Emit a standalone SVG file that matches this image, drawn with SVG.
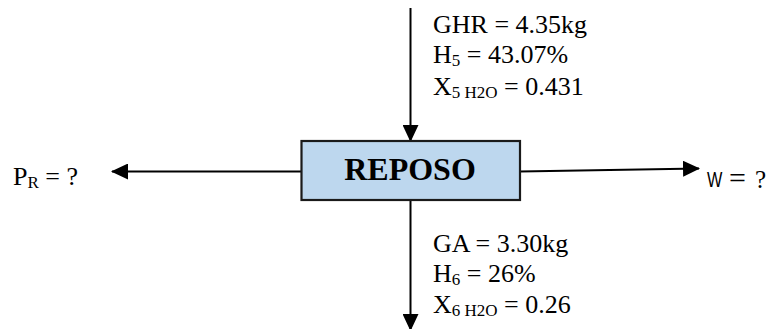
<svg xmlns="http://www.w3.org/2000/svg" width="772" height="329" viewBox="0 0 772 329">
<style>
.t{font-family:"Liberation Serif","Times New Roman",serif;font-size:26px;fill:#000}
.s{font-size:17px}
.c{stroke:#000;stroke-width:2;fill:none}
</style>
<defs>
<marker id="ah" markerWidth="17" markerHeight="16" refX="16" refY="8" orient="auto" markerUnits="userSpaceOnUse">
<path d="M0,0 L17,8 L0,16 Z" fill="#000"/>
</marker>
</defs>
<rect width="772" height="329" fill="#fff"/>
<g id="connectors">
<line class="c" x1="410.5" y1="8" x2="410.5" y2="141" marker-end="url(#ah)"/>
<line class="c" x1="410.5" y1="200" x2="410.5" y2="330" marker-end="url(#ah)"/>
<line class="c" x1="301" y1="171.5" x2="112" y2="171.5" marker-end="url(#ah)"/>
<line class="c" x1="520" y1="171.5" x2="699" y2="168.5" marker-end="url(#ah)"/>
</g>
<g id="reposo">
<rect x="301.5" y="141" width="218.5" height="59" fill="#BDD7EE" stroke="#1a1a1a" stroke-width="2.2"/>
<text x="410" y="180" text-anchor="middle" style="font-family:'Liberation Serif','Times New Roman',serif;font-size:32px;font-weight:bold">REPOSO</text>
</g>
<g id="input-label">
<text class="t" x="433" y="33">GHR = 4.35kg</text>
<text class="t" x="433" y="63">H<tspan class="s" dy="3">5</tspan><tspan dy="-3"> = 43.07%</tspan></text>
<text class="t" x="433" y="95">X<tspan class="s" dy="3">5 H2O</tspan><tspan dy="-3"> = 0.431</tspan></text>
</g>
<g id="output-label">
<text class="t" x="433" y="252">GA = 3.30kg</text>
<text class="t" x="433" y="282">H<tspan class="s" dy="3">6</tspan><tspan dy="-3"> = 26%</tspan></text>
<text class="t" x="433" y="313">X<tspan class="s" dy="3">6 H2O</tspan><tspan dy="-3"> = 0.26</tspan></text>
</g>
<g id="pr-label">
<text class="t" x="13" y="185">P<tspan class="s" dy="3">R</tspan><tspan dy="-3"> = ?</tspan></text>
</g>
<g id="w-label">
<text x="707" y="187.5" font-family="Liberation Sans, Arial, sans-serif" font-size="22" transform="translate(707 187.5) scale(0.74 1) translate(-707 -187.5)">W</text>
<text x="729" y="188" font-family="Liberation Serif, Times New Roman, serif" font-size="30">=</text>
<text x="755" y="188" font-family="Liberation Serif, Times New Roman, serif" font-size="25">?</text>
</g>
</svg>
